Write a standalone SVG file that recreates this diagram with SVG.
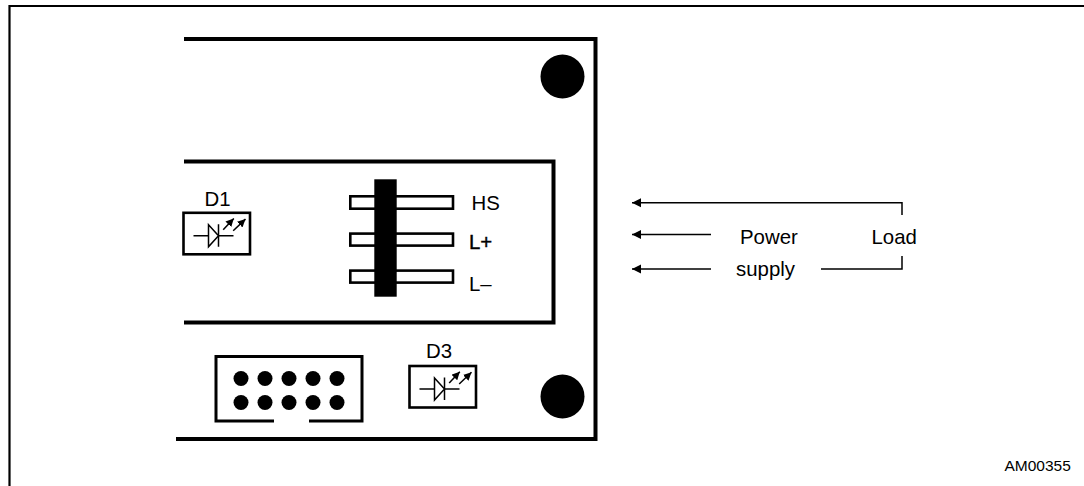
<svg xmlns="http://www.w3.org/2000/svg" width="1084" height="486" viewBox="0 0 1084 486">
<style>
.t{font-family:"Liberation Sans",Arial,sans-serif;font-size:20.400px;fill:#000}
.b{fill:none;stroke:#000;stroke-width:4}
.m{fill:none;stroke:#000;stroke-width:3}
.w{fill:none;stroke:#000;stroke-width:1.500}
.p{fill:#fff;stroke:#000;stroke-width:2.600}
</style>
<defs>
<marker id="a" markerUnits="userSpaceOnUse" markerWidth="10" markerHeight="10" refX="9" refY="5" orient="auto"><path d="M0 0.500L9 5L0 9.500Z" fill="#000"/></marker>
<marker id="s" markerUnits="userSpaceOnUse" markerWidth="9" markerHeight="8" refX="8" refY="4" orient="auto"><path d="M0 0L8 4L0 8Z" fill="#000"/></marker>
<g id="led">
<rect x="0" y="0" width="66.500" height="41.500" fill="#fff" stroke="#000" stroke-width="2.600"/>
<path class="w" d="M10 23H25M35 23H50M35 11.500V34"/>
<path d="M25 12L35 23L25 34Z" fill="#fff" stroke="#000" stroke-width="1.500"/>
<path class="w" d="M39.700 17L50.300 5.700" marker-end="url(#s)"/>
<path class="w" d="M49.700 18L62 6.300" marker-end="url(#s)"/>
</g>
</defs>
<path id="frame" d="M9.500 486V6H1084" fill="none" stroke="#000" stroke-width="2.200"/>
<g id="board"><path class="b" d="M184 39H595.500V439H176"/></g>
<g id="holes"><circle cx="562.500" cy="76.500" r="22"/><circle cx="562.500" cy="396.500" r="22"/></g>
<g id="panel"><path class="b" d="M184 161.500H553.500V322.500H184"/></g>
<g id="D1"><use href="#led" transform="translate(183.500,212.800)"/><text class="t" x="204.500" y="206">D1</text></g>
<g id="D3"><use href="#led" transform="translate(409.500,366)"/><text class="t" x="426" y="358">D3</text></g>
<g id="header">
<rect class="p" x="350.300" y="196.300" width="102.700" height="12.400"/>
<rect class="p" x="350.300" y="233.600" width="102.700" height="12"/>
<rect class="p" x="350.300" y="270.600" width="102.700" height="12"/>
<rect x="374.300" y="179.300" width="22.400" height="117.400"/>
<text class="t" x="471.500" y="209.500">HS</text>
<text class="t" x="469" y="249" stroke="#000" stroke-width="0.400">L+</text>
<text class="t" x="469" y="291">L–</text>
</g>
<g id="connector">
<path class="m" d="M274 421H216V356.500H362V421H309"/>
<g id="pins"><circle cx="241" cy="378.500" r="7.500"/><circle cx="265" cy="378.500" r="7.500"/><circle cx="289" cy="378.500" r="7.500"/><circle cx="313" cy="378.500" r="7.500"/><circle cx="337" cy="378.500" r="7.500"/><circle cx="241" cy="402.500" r="7.500"/><circle cx="265" cy="402.500" r="7.500"/><circle cx="289" cy="402.500" r="7.500"/><circle cx="313" cy="402.500" r="7.500"/><circle cx="337" cy="402.500" r="7.500"/></g>
</g>
<g id="connectors">
<path class="w" d="M902 215V202.700H632" marker-end="url(#a)"/>
<path class="w" d="M711 234.500H632" marker-end="url(#a)"/>
<path class="w" d="M711 269H632" marker-end="url(#a)"/>
<path class="w" d="M821 269H902V256"/>
</g>
<g id="labels">
<text class="t" x="740" y="243.500">Power</text>
<text class="t" x="871.500" y="243.500">Load</text>
<text class="t" x="736" y="276">supply</text>
<text x="1004.500" y="471" style="font-family:'Liberation Sans',Arial,sans-serif;font-size:15.500px">AM00355</text>
</g>
</svg>
